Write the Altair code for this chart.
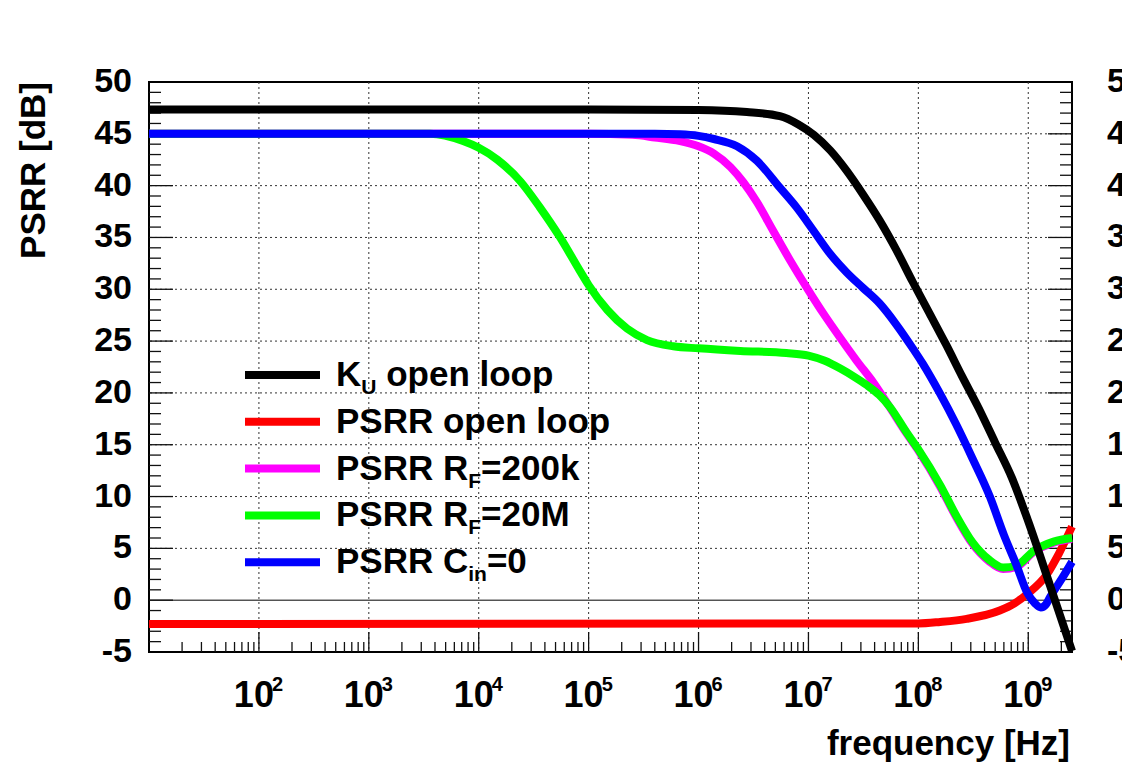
import altair as alt
import pandas as pd

# ---------------- data ----------------
KU_F = [1e1, 1e5, 1e6, 2.75e6, 5.5e6, 8.1e6, 1.12e7, 1.58e7, 2.24e7, 3.16e7, 4.47e7,
        6.3e7, 8.9e7, 1.26e8, 1.78e8, 2.5e8, 3.55e8, 5.0e8, 7.1e8, 1.0e9, 1.58e9, 2.5e9]
KU_DB = [47.35, 47.35, 47.3, 47.1, 46.7, 45.9, 44.9, 43.4, 41.4, 39.1, 36.6,
         33.8, 30.7, 27.7, 24.7, 21.6, 18.5, 15.2, 11.8, 7.6, 1.4, -4.9]

RED_F = [1e1, 1e8, 1.58e8, 2.75e8, 5.5e8, 7.5e8, 9.8e8, 1.48e9, 1.9e9, 2.5e9]
RED_DB = [-2.3, -2.25, -2.1, -1.8, -1.0, -0.3, 0.6, 2.5, 4.5, 7.1]

MAG_F = [1e1, 1e5, 2.5e5, 4e5, 6.8e5, 1e6, 1.38e6, 1.95e6, 2.57e6, 3.4e6, 4.8e6, 6.8e6,
         1e7, 1.38e7, 1.95e7, 2.75e7, 3.9e7, 5.5e7, 7.8e7, 1e8, 1.58e8, 2.2e8, 3.1e8,
         4.4e8, 5.9e8, 7.8e8, 1.12e9, 1.7e9, 2.5e9]
MAG_DB = [45.0, 45.0, 44.9, 44.65, 44.3, 43.8, 43.1, 41.8, 40.3, 38.4, 35.6, 32.8,
          29.9, 27.6, 25.3, 23.1, 21.0, 18.6, 16.1, 14.45, 10.95, 8.05, 5.45,
          3.75, 3.0, 3.2, 4.65, 5.55, 5.9]

GREEN_F = [1e1, 3.6e3, 7.2e3, 1e4, 1.48e4, 2.4e4, 3.6e4, 5.5e4, 8.3e4, 1e5, 1.48e5,
           2.24e5, 3.4e5, 5.9e5, 1e6, 2.4e6, 6.3e6, 1e7, 1.41e7, 1.95e7, 2.57e7, 3.4e7,
           4.4e7, 5.5e7, 7.8e7, 1e8, 1.58e8, 2.2e8, 3.1e8, 4.4e8, 5.9e8, 7.8e8,
           1.12e9, 1.7e9, 2.5e9]
GREEN_DB = [45.0, 45.0, 44.3, 43.65, 42.5, 40.4, 37.9, 35.0, 31.8, 30.4, 28.0,
            26.2, 25.1, 24.5, 24.3, 24.05, 23.85, 23.6, 23.1, 22.35, 21.6, 20.75,
            19.8, 18.65, 16.2, 14.55, 11.1, 8.2, 5.6, 3.9, 3.15, 3.35,
            4.75, 5.65, 6.0]

BLUE_F = [1e1, 4e5, 6.8e5, 1e6, 1.38e6, 2.24e6, 3.4e6, 5.5e6, 7.8e6, 1.12e7, 1.58e7,
          2.24e7, 3.16e7, 4.47e7, 6.3e7, 8.9e7, 1.1e8, 1.58e8, 2.2e8, 3.1e8, 4.47e8,
          6.0e8, 7.8e8, 9.8e8, 1.15e9, 1.3e9, 1.45e9, 1.58e9, 2.0e9, 2.5e9]
BLUE_DB = [45.0, 45.0, 44.95, 44.8, 44.5, 43.8, 42.4, 39.8, 37.9, 35.6, 33.4,
           31.6, 30.1, 28.6, 26.6, 24.3, 22.8, 19.9, 17.0, 13.7, 10.0,
           6.3, 3.4, 0.7, -0.3, -0.7, -0.4, 0.3, 2.0, 3.7]

# draw order bottom -> top
SERIES_NAMES = ["PSRR open loop", "PSRR R_F=200k", "PSRR R_F=20M", "PSRR C_in=0", "K_U open loop"]
SERIES_F = [RED_F, MAG_F, GREEN_F, BLUE_F, KU_F]
SERIES_DB = [RED_DB, MAG_DB, GREEN_DB, BLUE_DB, KU_DB]
SERIES_COLORS = ["#ff0000", "#ff00ff", "#00ff00", "#0000ff", "#000000"]

# legend (top -> bottom), split for subscripts
LEGEND_MAIN = ["K", "PSRR open loop", "PSRR R", "PSRR R", "PSRR C"]
LEGEND_SUB = ["U", "", "F", "F", "in"]
LEGEND_TAIL = [" open loop", "", "=200k", "=20M", "=0"]
LEGEND_COLORS = ["#000000", "#ff0000", "#ff00ff", "#00ff00", "#0000ff"]

DECADES = [1e2, 1e3, 1e4, 1e5, 1e6, 1e7, 1e8, 1e9]
DECADE_BASE = ["10"] * 8
DECADE_EXP = ["2", "3", "4", "5", "6", "7", "8", "9"]
MINOR_MULT = [2, 3, 4, 5, 6, 7, 8, 9]
Y_LABELS = [-5, 0, 5, 10, 15, 20, 25, 30, 35, 40, 45, 50]
Y_GRID = [5, 10, 15, 20, 25, 30, 35, 40, 45]
X_TITLE = "frequency [Hz]"
Y_TITLE = "PSRR [dB]"

# ---------------- layout / style ----------------
W, H = 923, 570
FONT = "Liberation Sans"
X_MIN, X_MAX = 10, 2.5e9

ARIAL_BOLD = {" ": 278, "=": 584, "0": 556, "1": 556, "2": 556, "C": 722, "F": 611,
              "K": 722, "M": 833, "P": 667, "R": 722, "S": 667, "U": 722, "c": 556,
              "e": 556, "i": 278, "k": 556, "l": 278, "n": 611, "o": 611, "p": 611}


def tw(s, size):
    return sum(ARIAL_BOLD.get(c, 556) for c in s) / 1000.0 * size


xs = alt.Scale(type="log", domain=[X_MIN, X_MAX], nice=False)
ys = alt.Scale(domain=[-5, 50], nice=False, zero=False)


def XE(f):
    return alt.X(f, scale=xs, axis=None)


def YE(f):
    return alt.Y(f, scale=ys, axis=None)


layers = []

# grid
layers.append(alt.Chart(pd.DataFrame({"f": DECADES})).mark_rule(
    color="#333333", strokeWidth=1, strokeDash=[2, 3]).encode(x=XE("f:Q")))
layers.append(alt.Chart(pd.DataFrame({"v": Y_GRID})).mark_rule(
    color="#333333", strokeWidth=1, strokeDash=[2, 3]).encode(y=YE("v:Q")))
layers.append(alt.Chart(pd.DataFrame({"v": [0]})).mark_rule(
    color="#000000", strokeWidth=1).encode(y=YE("v:Q")))

# ticks (inside)
minor_x = [m * d / 10 for d in DECADES + [1e10] for m in MINOR_MULT if m * d / 10 <= X_MAX]
layers.append(alt.Chart(pd.DataFrame({"f": DECADES})).mark_rule(
    color="#111111", strokeWidth=1.3).encode(x=XE("f:Q"), y=alt.value(H), y2=alt.value(H - 20)))
layers.append(alt.Chart(pd.DataFrame({"f": minor_x})).mark_rule(
    color="#111111", strokeWidth=1.3).encode(x=XE("f:Q"), y=alt.value(H), y2=alt.value(H - 10)))
y_major = [v for v in Y_LABELS if -5 < v < 50]
y_minor = [v for v in range(-4, 50) if v % 5 != 0]
for x0, sgn in [(0, 1), (W, -1)]:
    layers.append(alt.Chart(pd.DataFrame({"v": y_major})).mark_rule(
        color="#111111", strokeWidth=1.3).encode(y=YE("v:Q"), x=alt.value(x0), x2=alt.value(x0 + sgn * 24)))
    layers.append(alt.Chart(pd.DataFrame({"v": y_minor})).mark_rule(
        color="#111111", strokeWidth=1.3).encode(y=YE("v:Q"), x=alt.value(x0), x2=alt.value(x0 + sgn * 12)))

# curves
for name, fl, vl, col in zip(SERIES_NAMES, SERIES_F, SERIES_DB, SERIES_COLORS):
    df = pd.DataFrame({"f": fl, "v": vl, "series": name})
    layers.append(alt.Chart(df).mark_line(
        color=col, strokeWidth=8, interpolate="monotone", strokeCap="butt", strokeJoin="round"
    ).encode(x=XE("f:Q"), y=YE("v:Q"), order="f:Q"))

# y tick labels (left and right)
ylab = pd.DataFrame({"v": Y_LABELS, "t": [str(v) for v in Y_LABELS]})
for xpos, al in [(-17, "right"), (W + 35, "left")]:
    layers.append(alt.Chart(ylab).mark_text(
        font=FONT, fontSize=34, fontWeight="bold", align=al, baseline="middle", color="black"
    ).encode(y=YE("v:Q"), x=alt.value(xpos), text="t:N"))

# x tick labels 10^n
xl = pd.DataFrame({"f": DECADES, "b": DECADE_BASE, "e": DECADE_EXP})
layers.append(alt.Chart(xl).mark_text(
    font=FONT, fontSize=36, fontWeight="bold", align="right", baseline="alphabetic", dx=15, color="black"
).encode(x=XE("f:Q"), y=alt.value(H + 55), text="b:N"))
layers.append(alt.Chart(xl).mark_text(
    font=FONT, fontSize=20, fontWeight="bold", align="left", baseline="alphabetic", dx=13, color="black"
).encode(x=XE("f:Q"), y=alt.value(H + 39), text="e:N"))

# axis titles
layers.append(alt.Chart(pd.DataFrame({"t": [Y_TITLE]})).mark_text(
    font=FONT, fontSize=35, fontWeight="bold", align="right", baseline="alphabetic", angle=270, color="black"
).encode(x=alt.value(-104), y=alt.value(0), text="t:N"))
layers.append(alt.Chart(pd.DataFrame({"t": [X_TITLE]})).mark_text(
    font=FONT, fontSize=35, fontWeight="bold", align="right", baseline="alphabetic", color="black"
).encode(x=alt.value(W - 2), y=alt.value(H + 103), text="t:N"))

# legend
LEG_Y0, LEG_DY = 293, 46.8
LEG_X0, LEG_X1, LEG_TX = 96, 171, 187
MAIN_FS, SUB_FS = 35, 21
for i, (m, s, t, col) in enumerate(zip(LEGEND_MAIN, LEGEND_SUB, LEGEND_TAIL, LEGEND_COLORS)):
    yc = LEG_Y0 + i * LEG_DY
    layers.append(alt.Chart(pd.DataFrame({"c": [col]})).mark_rule(
        color=col, strokeWidth=8, strokeCap="butt"
    ).encode(x=alt.value(LEG_X0), x2=alt.value(LEG_X1), y=alt.value(yc)))
    xcur = LEG_TX
    layers.append(alt.Chart(pd.DataFrame({"t": [m]})).mark_text(
        font=FONT, fontSize=MAIN_FS, fontWeight="bold", align="left", baseline="alphabetic", color="black"
    ).encode(x=alt.value(xcur), y=alt.value(yc + 11), text="t:N"))
    xcur += tw(m, MAIN_FS)
    if s:
        layers.append(alt.Chart(pd.DataFrame({"t": [s]})).mark_text(
            font=FONT, fontSize=SUB_FS, fontWeight="bold", align="left", baseline="alphabetic", color="black"
        ).encode(x=alt.value(xcur), y=alt.value(yc + 19), text="t:N"))
        xcur += tw(s, SUB_FS)
    if t:
        lead = len(t) - len(t.lstrip())
        xcur += tw(" " * lead, MAIN_FS)
        layers.append(alt.Chart(pd.DataFrame({"t": [t.lstrip()]})).mark_text(
            font=FONT, fontSize=MAIN_FS, fontWeight="bold", align="left", baseline="alphabetic", color="black"
        ).encode(x=alt.value(xcur), y=alt.value(yc + 11), text="t:N"))

chart = alt.layer(*layers).properties(
    width=W, height=H,
    autosize=alt.AutoSizeParams(type="none"),
    padding={"left": 141, "top": 74, "right": 50, "bottom": 110},
    background="white",
).configure_view(stroke="black", strokeWidth=2)

chart.save("out.html", embed_options={"renderer": "svg", "actions": False})
